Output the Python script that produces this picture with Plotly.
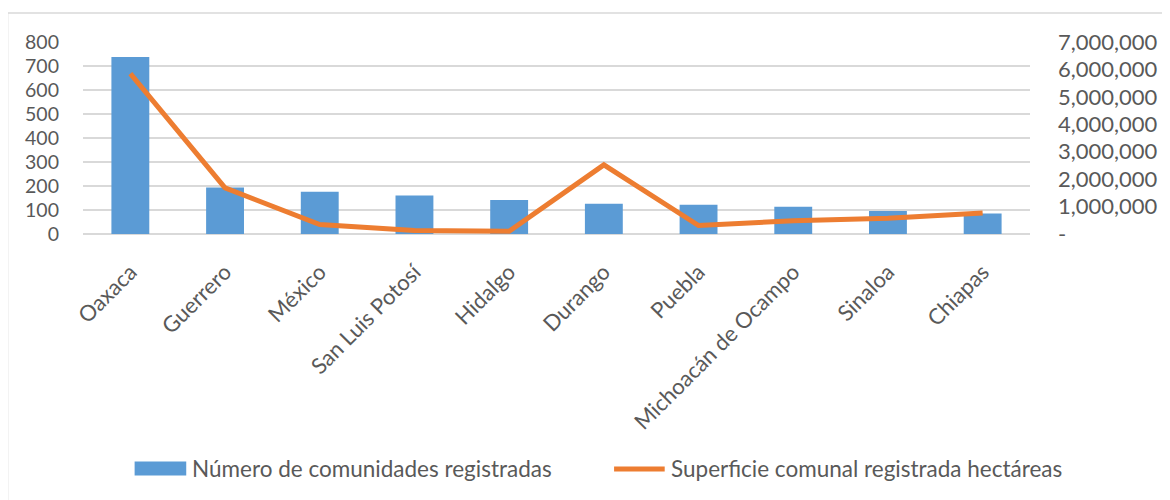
import plotly.graph_objects as go

estados = ["Oaxaca", "Guerrero", "México", "San Luis Potosí", "Hidalgo",
           "Durango", "Puebla", "Michoacán de Ocampo", "Sinaloa", "Chiapas"]
comunidades = [737, 194, 176, 160, 142, 126, 122, 114, 96, 85]
superficie_ha = [5850000, 1680000, 345000, 127000, 100000,
                 2520000, 310000, 480000, 570000, 770000]
left_ticks = [0, 100, 200, 300, 400, 500, 600, 700, 800]
right_ticks = [0, 1000000, 2000000, 3000000, 4000000, 5000000, 6000000, 7000000]
right_ticktext = ["-", "1,000,000", "2,000,000", "3,000,000", "4,000,000",
                  "5,000,000", "6,000,000", "7,000,000"]
name_bar = "Número de comunidades registradas"
name_line = "Superficie comunal registrada hectáreas"

FONT = "Lato"
TXT = "#595959"
BLUE = "#5B9BD5"
ORANGE = "#ED7D31"
GRID = "#D9D9D9"

fig = go.Figure()
fig.add_trace(go.Bar(x=estados, y=comunidades, name=name_bar,
                     marker=dict(color=BLUE, line=dict(width=0)), yaxis="y"))
fig.add_trace(go.Scatter(x=estados, y=superficie_ha, name=name_line, mode="lines",
                         line=dict(color=ORANGE, width=5), yaxis="y2"))

# page has an 8px body margin; work in window coordinates and offset
OFF = 8
W, H = 1170 - OFF, 500 - OFF
L, T = 83 - OFF, 42 - OFF
R = 1170 - 1037
B = 500 - 234.5
pw = W - L - R
ph = H - T - B

def px(x):
    return (x - OFF - L) / pw

def py(y):
    return (H - B - (y - OFF)) / ph

shapes = [
    dict(type="rect", xref="paper", yref="paper", x0=px(7), x1=px(1190),
         y0=py(520), y1=py(13), line=dict(color=GRID, width=1.5),
         fillcolor="rgba(0,0,0,0)", layer="below"),
    dict(type="rect", xref="paper", yref="paper", x0=px(135), x1=px(187),
         y0=py(476.7), y1=py(462.7), line=dict(width=0), fillcolor=BLUE),
    dict(type="line", xref="paper", yref="paper", x0=px(618), x1=px(669),
         y0=py(470), y1=py(470), line=dict(color=ORANGE, width=5)),
]
annotations = [
    dict(text=name_bar, xref="paper", yref="paper", x=px(191), y=py(470),
         xanchor="left", yanchor="middle", showarrow=False,
         font=dict(family=FONT, size=22.5, color=TXT)),
    dict(text=name_line, xref="paper", yref="paper", x=px(673), y=py(470),
         xanchor="left", yanchor="middle", showarrow=False,
         font=dict(family=FONT, size=22.5, color=TXT)),
]

fig.update_layout(
    width=W, height=H,
    margin=dict(l=L, r=R, t=T, b=B, pad=0),
    paper_bgcolor="white", plot_bgcolor="white",
    font=dict(family=FONT, size=22, color=TXT),
    showlegend=False,
    bargap=0.6,
    xaxis=dict(tickangle=-45, showgrid=False, showline=False, ticks="",
               tickfont=dict(family=FONT, size=22, color=TXT), ticklabelstandoff=20),
    yaxis=dict(range=[0, 800], tickvals=left_ticks, showgrid=True, gridcolor=GRID,
               gridwidth=1.5, zeroline=True, zerolinecolor=GRID, zerolinewidth=1.5,
               showline=False, ticks="", ticklabelstandoff=23,
               tickfont=dict(family=FONT, size=19.5, color=TXT)),
    yaxis2=dict(range=[0, 7000000], overlaying="y", side="right",
                tickvals=right_ticks, ticktext=right_ticktext, showgrid=False,
                zeroline=False, showline=False, ticks="", ticklabelstandoff=27,
                tickfont=dict(family=FONT, size=22, color=TXT)),
    shapes=shapes,
    annotations=annotations,
)

fig.write_html("out.html")
